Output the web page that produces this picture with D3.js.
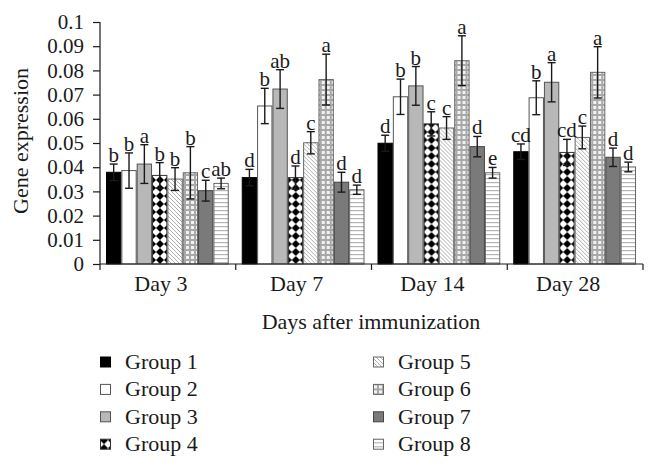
<!DOCTYPE html>
<html>
<head>
<meta charset="utf-8">
<script src="https://cdn.jsdelivr.net/npm/d3@7"></script>
<style>
  body { margin: 0; background: #fff; }
  text { font-family: "Liberation Serif", "DejaVu Serif", serif; fill: #1a1a1a; }
</style>
</head>
<body>
<svg id="chart" width="657" height="470"></svg>
<script>
// data
const days = ['Day 3', 'Day 7', 'Day 14', 'Day 28'];
const groups = ['Group 1', 'Group 2', 'Group 3', 'Group 4', 'Group 5', 'Group 6', 'Group 7', 'Group 8'];

// mean expression per group, one entry per day
const means = [
  [0.0379, 0.0386, 0.0413, 0.0366, 0.0351, 0.0377, 0.0303, 0.0333],
  [0.0357, 0.0653, 0.0723, 0.0357, 0.0501, 0.0762, 0.0338, 0.0307],
  [0.0499, 0.0691, 0.0736, 0.0579, 0.0562, 0.0840, 0.0485, 0.0377],
  [0.0464, 0.0687, 0.0751, 0.0461, 0.0523, 0.0792, 0.0441, 0.0401]
];
const errors = [
  [0.0034, 0.0073, 0.0080, 0.0053, 0.0047, 0.0108, 0.0043, 0.0022],
  [0.0034, 0.0073, 0.0080, 0.0048, 0.0046, 0.0105, 0.0041, 0.0019],
  [0.0033, 0.0073, 0.0080, 0.0050, 0.0047, 0.0103, 0.0042, 0.0022],
  [0.0032, 0.0070, 0.0081, 0.0054, 0.0047, 0.0106, 0.0038, 0.0020]
];
const letters = [
  ['b', 'b', 'a', 'b', 'b', 'b', 'c', 'ab'],
  ['d', 'b', 'ab', 'd', 'c', 'a', 'd', 'd'],
  ['d', 'b', 'b', 'c', 'c', 'a', 'd', 'e'],
  ['cd', 'b', 'a', 'cd', 'c', 'a', 'd', 'd']
];
const yTicks = [0, 0.01, 0.02, 0.03, 0.04, 0.05, 0.06, 0.07, 0.08, 0.09, 0.1];

const svg = d3.select('svg#chart');
const plotLeft = 100, plotRight = 643, plotTop = 22, plotBottom = 264;

// fills for the eight groups
const defs = svg.append('defs');

const p4 = defs.append('pattern').attr('id', 'pat4')
  .attr('patternUnits', 'userSpaceOnUse').attr('width', 8).attr('height', 8);
p4.append('rect').attr('width', 8).attr('height', 8).attr('fill', '#fff');
p4.append('path').attr('d', 'M4,0 L8,4 L4,8 L0,4 Z').attr('fill', '#000');

const p5 = defs.append('pattern').attr('id', 'pat5')
  .attr('patternUnits', 'userSpaceOnUse').attr('width', 4).attr('height', 4);
p5.append('rect').attr('width', 4).attr('height', 4).attr('fill', '#fff');
p5.append('path').attr('d', 'M-1,-1 L5,5 M-1,3 L1,5 M3,-1 L5,1')
  .attr('stroke', '#9a9a9a').attr('stroke-width', 0.8);

const p6 = defs.append('pattern').attr('id', 'pat6')
  .attr('patternUnits', 'userSpaceOnUse').attr('width', 5).attr('height', 5);
p6.append('rect').attr('width', 5).attr('height', 5).attr('fill', '#a8a8a8');
p6.append('rect').attr('x', 1).attr('y', 1).attr('width', 3).attr('height', 3).attr('fill', '#f2f2f2');

const p8 = defs.append('pattern').attr('id', 'pat8')
  .attr('patternUnits', 'userSpaceOnUse').attr('width', 4).attr('height', 4);
p8.append('rect').attr('width', 4).attr('height', 4).attr('fill', '#fff');
p8.append('rect').attr('y', 2).attr('width', 4).attr('height', 1.2).attr('fill', '#b5b5b5');

const fills = ['#000', '#fff', '#b8b8b8', 'url(#pat4)', 'url(#pat5)', 'url(#pat6)', '#7a7a7a', 'url(#pat8)'];
const strokes = ['#000', '#555', '#555', '#333', '#666', '#666', '#444', '#666'];

// scales
const x = d3.scaleBand().domain(days).range([plotLeft, plotRight]);
const xg = d3.scaleBand().domain(groups).range([6, x.bandwidth() - 7]);
const y = d3.scaleLinear().domain([0, 0.1]).range([plotBottom, plotTop]);

// bars
const dayG = svg.selectAll('g.day')
  .data(days)
  .enter()
  .append('g')
  .attr('class', 'day')
  .attr('transform', (d) => `translate(${x(d)},0)`);

dayG.each(function (day, di) {
  const rows = groups.map((g, gi) => ({
    g, gi, v: means[di][gi], e: errors[di][gi], lab: letters[di][gi]
  }));
  const g = d3.select(this);

  g.selectAll('rect')
    .data(rows)
    .enter()
    .append('rect')
    .attr('x', (d) => xg(d.g) + 0.5)
    .attr('y', (d) => y(d.v))
    .attr('width', xg.bandwidth() - 1)
    .attr('height', (d) => plotBottom - y(d.v))
    .attr('fill', (d) => fills[d.gi])
    .attr('stroke', (d) => strokes[d.gi])
    .attr('stroke-width', 1);

  const cx = (d) => xg(d.g) + xg.bandwidth() / 2;
  g.selectAll('line.err')
    .data(rows)
    .enter()
    .append('line')
    .attr('class', 'err')
    .attr('x1', cx).attr('x2', cx)
    .attr('y1', (d) => y(d.v + d.e))
    .attr('y2', (d) => y(d.v - d.e))
    .attr('stroke', '#1a1a1a').attr('stroke-width', 1.4);
  ['top', 'bot'].forEach((k) => {
    g.selectAll(`line.cap-${k}`)
      .data(rows)
      .enter()
      .append('line')
      .attr('class', `cap-${k}`)
      .attr('x1', (d) => cx(d) - 4).attr('x2', (d) => cx(d) + 4)
      .attr('y1', (d) => y(k === 'top' ? d.v + d.e : d.v - d.e))
      .attr('y2', (d) => y(k === 'top' ? d.v + d.e : d.v - d.e))
      .attr('stroke', '#1a1a1a').attr('stroke-width', 1.4);
  });

  g.selectAll('text.lab')
    .data(rows)
    .enter()
    .append('text')
    .attr('class', 'lab')
    .attr('x', cx)
    .attr('y', (d) => y(d.v + d.e) - 2)
    .attr('text-anchor', 'middle')
    .attr('font-size', '21px')
    .text((d) => d.lab);
});

// axes
const yAxis = svg.append('g')
  .attr('transform', `translate(${plotLeft},0)`)
  .call(d3.axisLeft(y).tickValues(yTicks).tickSize(7).tickFormat((d) => `${+d.toFixed(2)}`));
yAxis.select('.domain').attr('d', `M0,${plotTop}V${plotBottom + 6}`);

const xAxis = svg.append('g')
  .attr('transform', `translate(0,${plotBottom})`)
  .call(d3.axisBottom(x).tickSize(0));
xAxis.selectAll('.tick line').remove();
xAxis.select('.domain').attr('d', `M${plotLeft},0H${plotRight}`);
xAxis.selectAll('line.sep')
  .data(days.slice(1).concat(['end']))
  .enter()
  .append('line')
  .attr('class', 'sep')
  .attr('x1', (d) => (d === 'end' ? plotRight : x(d)))
  .attr('x2', (d) => (d === 'end' ? plotRight : x(d)))
  .attr('y1', 0).attr('y2', 6);

svg.selectAll('.domain, .tick line, line.sep').attr('stroke', '#1a1a1a').attr('stroke-width', 1.2);
svg.selectAll('.tick text')
  .style('font-family', '"Liberation Serif", serif')
  .attr('fill', '#1a1a1a');
yAxis.selectAll('.tick text').attr('x', -16).style('font-size', '21px');
// category labels sit a little left of the band centre in the original
xAxis.selectAll('.tick text').attr('x', -7).attr('y', 27).attr('dy', 0).style('font-size', '22px');

svg.append('text')
  .attr('transform', 'translate(28,141) rotate(-90)')
  .attr('text-anchor', 'middle')
  .attr('font-size', '22px')
  .text('Gene expression');

svg.append('text')
  .attr('x', 371).attr('y', 329)
  .attr('text-anchor', 'middle')
  .attr('font-size', '22px')
  .text('Days after immunization');

// legend
const legend = svg.selectAll('g.leg')
  .data(groups)
  .enter()
  .append('g')
  .attr('class', 'leg')
  .attr('transform', (d, i) => `translate(${i < 4 ? 100 : 373},${362 + (i % 4) * 27.4})`);
legend.append('rect')
  .attr('x', 0.5).attr('y', -5)
  .attr('width', 10).attr('height', 10)
  .attr('fill', (d, i) => fills[i])
  .attr('stroke', (d, i) => strokes[i]);
legend.append('text')
  .attr('x', 25).attr('y', 7)
  .attr('font-size', '22px')
  .text((d) => d);
</script>
</body>
</html>
